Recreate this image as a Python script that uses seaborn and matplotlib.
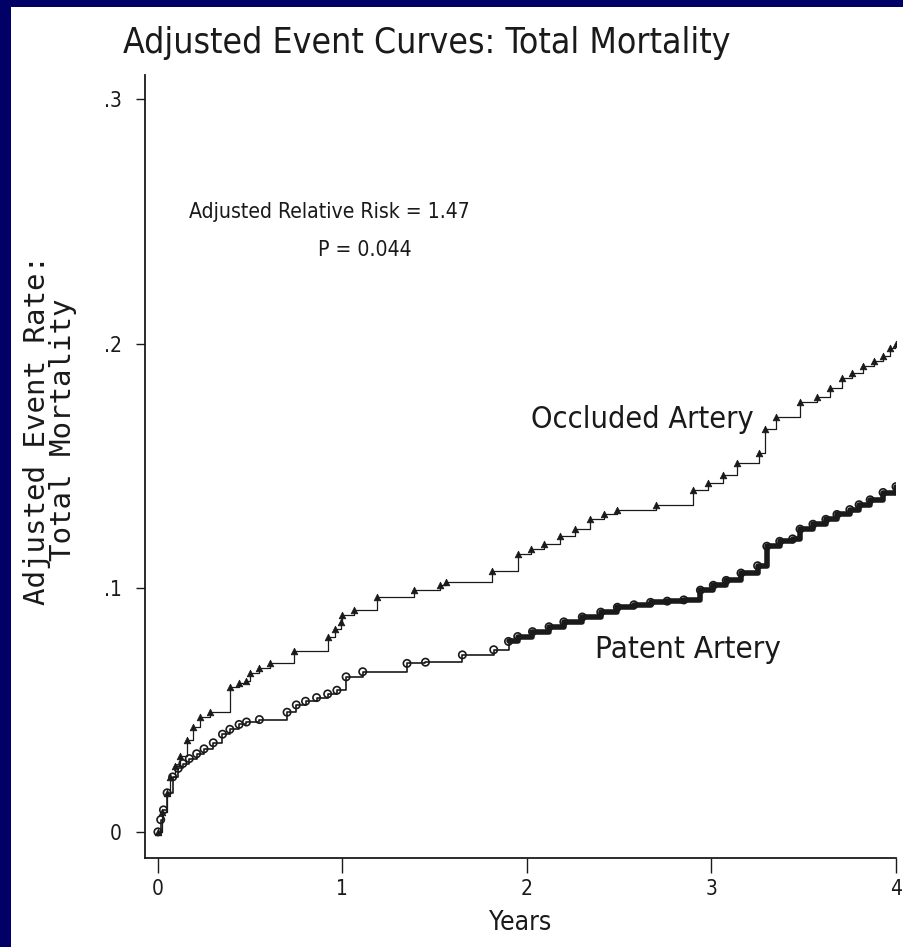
import numpy as np
import pandas as pd
import matplotlib.pyplot as plt
import seaborn as sns
from matplotlib.patches import Rectangle

# values (step curves, steps-post)
occ_years = [0.00, 0.02, 0.05, 0.065, 0.09, 0.12, 0.16, 0.19, 0.23, 0.28,
             0.39, 0.44, 0.48, 0.50, 0.55, 0.61, 0.74, 0.92, 0.96, 0.99,
             1.00, 1.06, 1.19, 1.39, 1.53, 1.56, 1.81, 1.95, 2.02, 2.09,
             2.18, 2.26, 2.34, 2.42, 2.49, 2.70, 2.90, 2.98, 3.06, 3.14,
             3.26, 3.29, 3.35, 3.48, 3.57, 3.64, 3.71, 3.76, 3.82, 3.88,
             3.93, 3.97, 4.00]
occ_rate = [0.000, 0.008, 0.016, 0.0225, 0.027, 0.031, 0.0377, 0.043, 0.047, 0.049,
            0.0594, 0.061, 0.062, 0.065, 0.067, 0.069, 0.074, 0.080, 0.083, 0.086,
            0.089, 0.091, 0.096, 0.099, 0.101, 0.1025, 0.107, 0.114, 0.116, 0.118,
            0.121, 0.124, 0.128, 0.130, 0.132, 0.134, 0.140, 0.143, 0.146, 0.151,
            0.155, 0.165, 0.170, 0.176, 0.178, 0.182, 0.186, 0.188, 0.191, 0.193,
            0.195, 0.198, 0.200]

pat_years = [0.00, 0.015, 0.03, 0.05, 0.08, 0.11, 0.135, 0.17, 0.21, 0.25,
             0.30, 0.35, 0.39, 0.44, 0.48, 0.55, 0.70, 0.75, 0.80, 0.86,
             0.92, 0.97, 1.02, 1.11, 1.35, 1.45, 1.65, 1.82, 1.90, 1.95,
             2.03, 2.12, 2.20, 2.30, 2.40, 2.49, 2.58, 2.67, 2.76, 2.85,
             2.94, 3.01, 3.08, 3.16, 3.25, 3.30, 3.37, 3.44, 3.48, 3.55,
             3.62, 3.68, 3.75, 3.80, 3.86, 3.93, 4.00]
pat_rate = [0.000, 0.005, 0.009, 0.016, 0.0225, 0.026, 0.028, 0.030, 0.032, 0.034,
            0.0365, 0.040, 0.042, 0.044, 0.045, 0.046, 0.049, 0.052, 0.0535, 0.055,
            0.0565, 0.058, 0.0635, 0.0656, 0.069, 0.0695, 0.0725, 0.0746, 0.078, 0.080,
            0.082, 0.084, 0.086, 0.088, 0.090, 0.092, 0.093, 0.094, 0.0945, 0.095,
            0.099, 0.101, 0.103, 0.106, 0.109, 0.117, 0.119, 0.120, 0.124, 0.126,
            0.128, 0.130, 0.132, 0.134, 0.136, 0.139, 0.1414]

x_ticks = [0, 1, 2, 3, 4]
y_ticks = [0, 0.1, 0.2, 0.3]
y_ticklabels = ['0', '.1', '.2', '.3']

sns.set_style('ticks')
plt.rcParams['font.family'] = ['DejaVu Sans']
plt.rcParams['font.stretch'] = 'condensed'
plt.rcParams['font.weight'] = 'light'
ink = '#1a1a1a'

fig = plt.figure(figsize=(9.04, 9.47), dpi=100)
fig.patch.set_facecolor('#000066')
fig.add_artist(Rectangle((11 / 904, 0), 1, 1 - 7 / 947, transform=fig.transFigure,
                         facecolor='white', edgecolor='none', zorder=-10))

ax = fig.add_axes([145 / 904, 1 - 858 / 947, (896 - 145) / 904, (858 - 75) / 947])
ax.set_facecolor('white')

occ = pd.DataFrame({'years': occ_years, 'rate': occ_rate})
pat = pd.DataFrame({'years': pat_years, 'rate': pat_rate})

sns.lineplot(data=occ, x='years', y='rate', drawstyle='steps-post', color=ink,
             lw=0.9, ax=ax, sort=False)
sns.scatterplot(data=occ, x='years', y='rate', marker='^', color=ink, s=22,
                edgecolor=ink, linewidth=0.6, ax=ax, zorder=3)

sns.lineplot(data=pat, x='years', y='rate', drawstyle='steps-post', color=ink,
             lw=1.2, ax=ax, sort=False)
# the dense later part of the patent curve prints as a heavy band
sns.lineplot(data=pat[pat['years'] >= 1.9], x='years', y='rate', drawstyle='steps-post',
             color=ink, lw=4, ax=ax, sort=False)
sns.scatterplot(data=pat, x='years', y='rate', marker='o', facecolor='none', s=28,
                edgecolor=ink, linewidth=1.2, ax=ax, zorder=3)

ax.set_xlim(-0.07, 4.0)
ax.set_ylim(-0.0107, 0.31)
ax.set_xticks(x_ticks)
ax.set_xticklabels([str(t) for t in x_ticks])
ax.set_yticks(y_ticks)
ax.set_yticklabels(y_ticklabels)
ax.tick_params(axis='x', length=11, width=1, colors=ink, labelsize=15, pad=4)
ax.tick_params(axis='y', length=6.5, width=1, colors=ink, labelsize=15, pad=10)
sns.despine(ax=ax)
for s in ['left', 'bottom']:
    ax.spines[s].set_color(ink)
    ax.spines[s].set_linewidth(1.3)

ax.set_xlabel('Years', fontsize=19, color=ink, labelpad=8)
ax.set_ylabel('')
fig.text(50 / 904, 1 - 430 / 947, 'Adjusted Event Rate:\nTotal Mortality', rotation=90,
         ha='center', va='center', fontsize=21, color=ink, family='DejaVu Sans Mono',
         linespacing=0.95)

fig.text(427 / 904, 1 - 43 / 947, 'Adjusted Event Curves: Total Mortality',
         ha='center', va='center', fontsize=25.5, color=ink)

ax.text(0.17, 0.254, 'Adjusted Relative Risk = 1.47', ha='left', va='center',
        fontsize=15.2, color=ink)
ax.text(1.12, 0.2385, 'P = 0.044', ha='center', va='center', fontsize=15.2, color=ink)
ax.text(2.02, 0.169, 'Occluded Artery', ha='left', va='center', fontsize=22, color=ink)
ax.text(2.37, 0.0746, 'Patent Artery', ha='left', va='center', fontsize=22.5, color=ink)

fig.savefig('out.png', dpi=100)
